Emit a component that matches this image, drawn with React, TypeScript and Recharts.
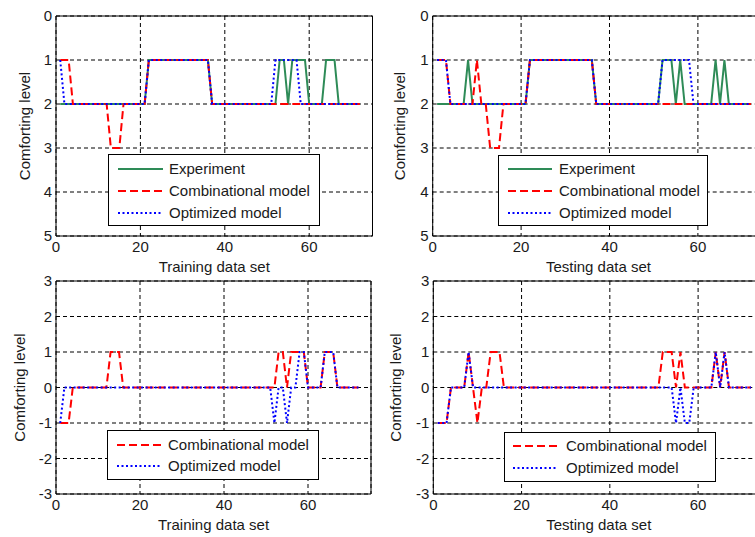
import React from 'react';
import { LineChart, Line, XAxis, YAxis, CartesianGrid, ReferenceArea } from 'recharts';

// Sample numbers 1..72 along the horizontal axis
const sampleIndex: number[] = Array.from({ length: 72 }, (_, i) => i + 1);

const xTicks = [0, 20, 40, 60];
const levelTicks = [0, 1, 2, 3, 4, 5];
const errorTicks = [-3, -2, -1, 0, 1, 2, 3];

// ---- Training data set: comforting levels ----
const expTrain = [
  2, 2, 2, 2, 2, 2, 2, 2, 2, 2, 2, 2,
  2, 2, 2, 2, 2, 2, 2, 2, 2, 1, 1, 1,
  1, 1, 1, 1, 1, 1, 1, 1, 1, 1, 1, 1,
  2, 2, 2, 2, 2, 2, 2, 2, 2, 2, 2, 2,
  2, 2, 2, 2, 1, 1, 2, 1, 1, 1, 1, 2,
  2, 2, 2, 1, 1, 1, 2, 2, 2, 2, 2, 2,
];
const combTrain = [
  1, 1, 1, 2, 2, 2, 2, 2, 2, 2, 2, 2,
  3, 3, 3, 2, 2, 2, 2, 2, 2, 1, 1, 1,
  1, 1, 1, 1, 1, 1, 1, 1, 1, 1, 1, 1,
  2, 2, 2, 2, 2, 2, 2, 2, 2, 2, 2, 2,
  2, 2, 2, 2, 2, 2, 2, 2, 2, 2, 2, 2,
  2, 2, 2, 2, 2, 2, 2, 2, 2, 2, 2, 2,
];
const optTrain = [
  1, 2, 2, 2, 2, 2, 2, 2, 2, 2, 2, 2,
  2, 2, 2, 2, 2, 2, 2, 2, 2, 1, 1, 1,
  1, 1, 1, 1, 1, 1, 1, 1, 1, 1, 1, 1,
  2, 2, 2, 2, 2, 2, 2, 2, 2, 2, 2, 2,
  2, 2, 2, 1, 1, 1, 1, 1, 1, 2, 2, 2,
  2, 2, 2, 2, 2, 2, 2, 2, 2, 2, 2, 2,
];

// ---- Training data set: model minus experiment ----
const errCombTrain = [
  -1, -1, -1, 0, 0, 0, 0, 0, 0, 0, 0, 0,
  1, 1, 1, 0, 0, 0, 0, 0, 0, 0, 0, 0,
  0, 0, 0, 0, 0, 0, 0, 0, 0, 0, 0, 0,
  0, 0, 0, 0, 0, 0, 0, 0, 0, 0, 0, 0,
  0, 0, 0, 0, 1, 1, 0, 1, 1, 1, 1, 0,
  0, 0, 0, 1, 1, 1, 0, 0, 0, 0, 0, 0,
];
const errOptTrain = [
  -1, 0, 0, 0, 0, 0, 0, 0, 0, 0, 0, 0,
  0, 0, 0, 0, 0, 0, 0, 0, 0, 0, 0, 0,
  0, 0, 0, 0, 0, 0, 0, 0, 0, 0, 0, 0,
  0, 0, 0, 0, 0, 0, 0, 0, 0, 0, 0, 0,
  0, 0, 0, -1, 0, 0, -1, 0, 0, 1, 1, 0,
  0, 0, 0, 1, 1, 1, 0, 0, 0, 0, 0, 0,
];

// ---- Testing data set: comforting levels ----
const expTest = [
  2, 2, 2, 2, 2, 2, 2, 1, 2, 2, 2, 2,
  2, 2, 2, 2, 2, 2, 2, 2, 2, 1, 1, 1,
  1, 1, 1, 1, 1, 1, 1, 1, 1, 1, 1, 1,
  2, 2, 2, 2, 2, 2, 2, 2, 2, 2, 2, 2,
  2, 2, 2, 1, 1, 1, 2, 1, 2, 2, 2, 2,
  2, 2, 2, 1, 2, 1, 2, 2, 2, 2, 2, 2,
];
const combTest = [
  1, 1, 1, 2, 2, 2, 2, 2, 2, 1, 2, 2,
  3, 3, 3, 2, 2, 2, 2, 2, 2, 1, 1, 1,
  1, 1, 1, 1, 1, 1, 1, 1, 1, 1, 1, 1,
  2, 2, 2, 2, 2, 2, 2, 2, 2, 2, 2, 2,
  2, 2, 2, 2, 2, 2, 2, 2, 2, 2, 2, 2,
  2, 2, 2, 2, 2, 2, 2, 2, 2, 2, 2, 2,
];
const optTest = [
  1, 1, 1, 2, 2, 2, 2, 2, 2, 2, 2, 2,
  2, 2, 2, 2, 2, 2, 2, 2, 2, 1, 1, 1,
  1, 1, 1, 1, 1, 1, 1, 1, 1, 1, 1, 1,
  2, 2, 2, 2, 2, 2, 2, 2, 2, 2, 2, 2,
  2, 2, 2, 1, 1, 1, 1, 1, 1, 1, 2, 2,
  2, 2, 2, 2, 2, 2, 2, 2, 2, 2, 2, 2,
];

// ---- Testing data set: model minus experiment ----
const errCombTest = [
  -1, -1, -1, 0, 0, 0, 0, 1, 0, -1, 0, 0,
  1, 1, 1, 0, 0, 0, 0, 0, 0, 0, 0, 0,
  0, 0, 0, 0, 0, 0, 0, 0, 0, 0, 0, 0,
  0, 0, 0, 0, 0, 0, 0, 0, 0, 0, 0, 0,
  0, 0, 0, 1, 1, 1, 0, 1, 0, 0, 0, 0,
  0, 0, 0, 1, 0, 1, 0, 0, 0, 0, 0, 0,
];
const errOptTest = [
  -1, -1, -1, 0, 0, 0, 0, 1, 0, 0, 0, 0,
  0, 0, 0, 0, 0, 0, 0, 0, 0, 0, 0, 0,
  0, 0, 0, 0, 0, 0, 0, 0, 0, 0, 0, 0,
  0, 0, 0, 0, 0, 0, 0, 0, 0, 0, 0, 0,
  0, 0, 0, 0, 0, 0, -1, 0, -1, -1, 0, 0,
  0, 0, 0, 1, 0, 1, 0, 0, 0, 0, 0, 0,
];

const GREEN = '#2e8b57';
const RED = '#ff0000';
const BLUE = '#0000ff';
const TEXT = '#1a1a1a';
const FONT = '"Liberation Sans", Arial, Helvetica, sans-serif';

type SeriesDef = { key: string; name: string; color: string; dash?: string };

const EXPERIMENT: SeriesDef = { key: 'experiment', name: 'Experiment', color: GREEN };
const COMBINATIONAL: SeriesDef = { key: 'combinational', name: 'Combinational model', color: RED, dash: '8 4' };
const OPTIMIZED: SeriesDef = { key: 'optimized', name: 'Optimized model', color: BLUE, dash: '2 2.5' };

const buildRows = (cols: Record<string, number[]>) =>
  sampleIndex.map((x, i) => {
    const row: Record<string, number> = { x };
    Object.keys(cols).forEach((k) => {
      row[k] = cols[k][i];
    });
    return row;
  });

const trainLevels = buildRows({ experiment: expTrain, combinational: combTrain, optimized: optTrain });
const testLevels = buildRows({ experiment: expTest, combinational: combTest, optimized: optTest });
const trainErrors = buildRows({ combinational: errCombTrain, optimized: errOptTrain });
const testErrors = buildRows({ combinational: errCombTest, optimized: errOptTest });

type Box = { left: number; top: number; width: number; height: number };
type Plot = { l: number; t: number; r: number; b: number };

type PanelProps = {
  box: Box;
  plot: Plot;
  rows: Record<string, number>[];
  series: SeriesDef[];
  yDomain: [number, number];
  yTicks: number[];
  reversed: boolean;
  xLabel: string;
  yLabelX: number;
};

function Panel({ box, plot, rows, series, yDomain, yTicks, reversed, xLabel, yLabelX }: PanelProps) {
  const xAxisHeight = box.top + box.height - plot.b;
  return (
    <div style={{ position: 'absolute', left: box.left, top: box.top, width: box.width, height: box.height }}>
      <LineChart
        width={box.width}
        height={box.height}
        data={rows}
        margin={{ top: plot.t - box.top, right: box.left + box.width - plot.r, left: 0, bottom: 0 }}
      >
        <CartesianGrid stroke="#000" strokeDasharray="4 3" strokeWidth={1} />
        <XAxis
          dataKey="x"
          type="number"
          domain={[0, 75]}
          ticks={xTicks}
          interval={0}
          height={xAxisHeight}
          axisLine={false}
          tickLine={false}
          tickSize={0}
          tickMargin={5}
          tick={{ fill: TEXT, fontSize: 15, fontFamily: FONT }}
          label={{ value: xLabel, position: 'insideBottom', offset: xAxisHeight - 35.5, fill: TEXT, fontSize: 15, fontFamily: FONT }}
        />
        <YAxis
          type="number"
          domain={yDomain}
          ticks={yTicks}
          interval={0}
          reversed={reversed}
          width={plot.l - box.left}
          axisLine={false}
          tickLine={false}
          tickSize={0}
          tickMargin={4}
          tick={{ fill: TEXT, fontSize: 15, fontFamily: FONT }}
          label={{
            value: 'Comforting level',
            angle: -90,
            position: 'insideLeft',
            offset: yLabelX - box.left,
            fill: TEXT,
            fontSize: 15,
            fontFamily: FONT,
            style: { textAnchor: 'middle' },
          }}
        />
        <ReferenceArea x1={0} x2={75} y1={yDomain[0]} y2={yDomain[1]} fill="none" stroke="#000" strokeWidth={1} ifOverflow="visible" />
        {series.map((s) => (
          <Line
            key={s.key}
            type="linear"
            dataKey={s.key}
            name={s.name}
            stroke={s.color}
            strokeWidth={2}
            strokeDasharray={s.dash}
            dot={false}
            activeDot={false}
            isAnimationActive={false}
          />
        ))}
      </LineChart>
    </div>
  );
}

type LegendProps = {
  left: number;
  top: number;
  width: number;
  height: number;
  series: SeriesDef[];
  lineX0: number;
  lineX1: number;
  textX: number;
  rowYs: number[];
};

function LegendBox({ left, top, width, height, series, lineX0, lineX1, textX, rowYs }: LegendProps) {
  return (
    <div
      style={{
        position: 'absolute',
        left,
        top,
        width,
        height,
        boxSizing: 'border-box',
        border: '1px solid #000',
        background: '#fff',
        fontFamily: FONT,
        fontSize: 15,
        color: TEXT,
      }}
    >
      {series.map((s, i) => (
        <React.Fragment key={s.key}>
          <svg
            width={lineX1 - lineX0}
            height={6}
            style={{ position: 'absolute', left: lineX0 - left - 1, top: rowYs[i] - top - 1 - 3 }}
          >
            <line x1={0} y1={3} x2={lineX1 - lineX0} y2={3} stroke={s.color} strokeWidth={2} strokeDasharray={s.dash} />
          </svg>
          <div
            style={{
              position: 'absolute',
              left: textX - left - 1,
              top: rowYs[i] - top - 1 - 10,
              height: 20,
              lineHeight: '20px',
              whiteSpace: 'nowrap',
            }}
          >
            {s.name}
          </div>
        </React.Fragment>
      ))}
    </div>
  );
}

export default function App() {
  const levelSeries = [EXPERIMENT, COMBINATIONAL, OPTIMIZED];
  const errorSeries = [COMBINATIONAL, OPTIMIZED];
  return (
    <div
      style={{
        position: 'absolute',
        left: 0,
        top: 0,
        width: 755,
        height: 537,
        overflow: 'hidden',
        background: '#fff',
        fontFamily: FONT,
      }}
    >
      <Panel
        box={{ left: 0, top: 0, width: 380, height: 278 }}
        plot={{ l: 56, t: 16, r: 372.5, b: 236 }}
        rows={trainLevels}
        series={levelSeries}
        yDomain={[0, 5]}
        yTicks={levelTicks}
        reversed
        xLabel="Training data set"
        yLabelX={25}
      />
      <Panel
        box={{ left: 380, top: 0, width: 395, height: 278 }}
        plot={{ l: 432.7, t: 16, r: 764.2, b: 236 }}
        rows={testLevels}
        series={levelSeries}
        yDomain={[0, 5]}
        yTicks={levelTicks}
        reversed
        xLabel="Testing data set"
        yLabelX={400}
      />
      <Panel
        box={{ left: 0, top: 268, width: 380, height: 269 }}
        plot={{ l: 56, t: 281, r: 371, b: 494 }}
        rows={trainErrors}
        series={errorSeries}
        yDomain={[-3, 3]}
        yTicks={errorTicks}
        reversed={false}
        xLabel="Training data set"
        yLabelX={20}
      />
      <Panel
        box={{ left: 380, top: 268, width: 395, height: 269 }}
        plot={{ l: 433.3, t: 281, r: 764.3, b: 494 }}
        rows={testErrors}
        series={errorSeries}
        yDomain={[-3, 3]}
        yTicks={errorTicks}
        reversed={false}
        xLabel="Testing data set"
        yLabelX={396}
      />

      <LegendBox left={108} top={154} width={212} height={72} series={levelSeries} lineX0={118} lineX1={163} textX={169} rowYs={[168.5, 191, 212.5]} />
      <LegendBox left={498} top={155} width={210} height={71} series={levelSeries} lineX0={508} lineX1={552} textX={559} rowYs={[168.5, 191, 212.5]} />
      <LegendBox left={107} top={430} width={212} height={50} series={errorSeries} lineX0={117} lineX1={162} textX={168} rowYs={[444.5, 466]} />
      <LegendBox left={504} top={432} width={212} height={50} series={errorSeries} lineX0={513} lineX1={558} textX={566} rowYs={[446, 467.5]} />
    </div>
  );
}
